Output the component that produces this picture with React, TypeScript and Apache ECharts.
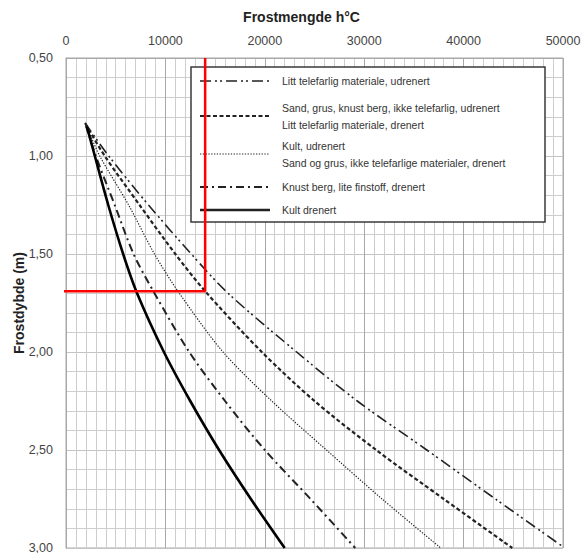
import React, { useEffect, useRef } from "react";
import * as echarts from "echarts";

// Frostmengde (h°C) read at each depth (m)
const dddDepth = [0.83, 1.0, 1.25, 1.5, 1.7, 2.0, 2.25, 2.5, 2.75, 2.99];
const dddFrost = [1900, 4300, 8300, 12600, 16300, 23200, 29300, 36300, 43200, 49900];

const dashedDepth = [0.835, 1.0, 1.25, 1.5, 1.69, 2.0, 2.25, 2.5, 2.75, 3.0];
const dashedFrost = [1950, 3900, 7400, 11000, 14000, 19700, 25000, 31200, 38000, 44900];

const dottedDepth = [0.84, 1.0, 1.25, 1.5, 1.7, 2.0, 2.25, 2.5, 2.75, 3.0];
const dottedFrost = [2000, 3400, 6300, 8900, 11400, 15800, 20700, 26200, 31800, 37700];

const dashDotDepth = [0.845, 1.0, 1.25, 1.5, 1.7, 2.0, 2.25, 2.5, 2.75, 3.0];
const dashDotFrost = [2000, 3000, 4900, 6800, 8900, 12400, 16000, 20000, 24600, 29100];

const solidDepth = [0.85, 1.0, 1.25, 1.5, 1.7, 2.0, 2.25, 2.5, 2.75, 3.0];
const solidFrost = [2100, 2900, 4250, 5750, 7150, 9850, 12500, 15400, 18600, 22000];

const redFrost = [14000, 14000, -300];
const redDepth = [0.5, 1.69, 1.69];

const legendLabels = [
  ["Litt telefarlig materiale, udrenert"],
  ["Sand, grus, knust berg, ikke telefarlig, udrenert", "Litt telefarlig materiale, drenert"],
  ["Kult, udrenert", "Sand og grus, ikke telefarlige materialer, drenert"],
  ["Knust berg, lite finstoff, drenert"],
  ["Kult drenert"],
];

const xTitle = "Frostmengde h\u00B0C";
const yTitle = "Frostdybde (m)";

const FONT = '"Liberation Sans", Arial, sans-serif';

const pairs = (xs: number[], ys: number[]) => xs.map((x, i) => [x, ys[i]]);

const styles = [
  { width: 1.6, type: [11, 4, 2, 3, 2, 4] as number[] },
  { width: 2.2, type: [4, 2.5] as number[] },
  { width: 1.2, type: [1.3, 1.5] as number[] },
  { width: 2, type: [8, 4, 2, 4] as number[] },
  { width: 2.6, type: "solid" as any },
];

export default function App() {
  const ref = useRef<HTMLDivElement>(null);
  useEffect(() => {
    if (!ref.current) return;
    const chart = echarts.init(ref.current, undefined, { renderer: "svg" });
    const seriesData = [
      pairs(dddFrost, dddDepth),
      pairs(dashedFrost, dashedDepth),
      pairs(dottedFrost, dottedDepth),
      pairs(dashDotFrost, dashDotDepth),
      pairs(solidFrost, solidDepth),
    ];

    const legendLineY = [81, 116, 154, 187, 210];
    const legendTextY = [[81], [108, 124.5], [146, 163], [187], [210]];
    const graphics: any[] = [
      {
        type: "rect",
        z: 1,
        shape: { x: 191, y: 67, width: 354, height: 155 },
        style: { fill: "#fff", stroke: "#3a3a3a", lineWidth: 1.5 },
      },
    ];
    legendLabels.forEach((lines, i) => {
      graphics.push({
        type: "line",
        z: 1,
        shape: { x1: 200, y1: legendLineY[i], x2: 270, y2: legendLineY[i] },
        style: {
          stroke: "#222",
          lineWidth: styles[i].width,
          lineDash: Array.isArray(styles[i].type) ? styles[i].type : null,
        },
      });
      lines.forEach((t, j) => {
        graphics.push({
          type: "text",
          z: 1,
          style: {
            text: t,
            x: 282,
            y: legendTextY[i][j],
            fill: "#333",
            font: `10.5px ${FONT}`,
            verticalAlign: "middle",
          },
        });
      });
    });

    chart.setOption({
      animation: false,
      backgroundColor: "#fff",
      grid: {
        left: 66,
        right: 20,
        top: 58,
        bottom: 5,
        show: true,
        containLabel: false,
        outerBoundsMode: "none",
        borderColor: "#a8a8a8",
        borderWidth: 1,
      },
      xAxis: {
        type: "value",
        position: "top",
        min: 0,
        max: 50000,
        interval: 10000,
        name: xTitle,
        nameLocation: "middle",
        nameGap: 34,
        nameTextStyle: {
          fontFamily: FONT,
          fontWeight: "bold",
          fontSize: 14,
          color: "#222",
          padding: [0, 26, 0, 0],
        },
        axisLine: { show: true, lineStyle: { color: "#a8a8a8" } },
        axisTick: { show: false },
        axisLabel: {
          fontFamily: FONT,
          fontSize: 12.5,
          color: "#444",
          margin: 11,
          formatter: (v: number) => String(v),
        },
        splitLine: { show: true, lineStyle: { color: "#a8a8a8", width: 1 } },
        minorTick: { show: false, splitNumber: 10 },
        minorSplitLine: { show: true, lineStyle: { color: "#cdcdcd", width: 1 } },
      },
      yAxis: {
        type: "value",
        inverse: true,
        min: 0.5,
        max: 3.0,
        interval: 0.5,
        name: yTitle,
        nameLocation: "middle",
        nameGap: 40,
        nameMoveOverlap: false,
        nameRotate: 90,
        nameTextStyle: {
          fontFamily: FONT,
          fontWeight: "bold",
          fontSize: 14,
          color: "#222",
        },
        axisLine: { show: true, lineStyle: { color: "#a8a8a8" } },
        axisTick: { show: false },
        axisLabel: {
          fontFamily: FONT,
          fontSize: 12.5,
          color: "#444",
          margin: 13,
          formatter: (v: number) => v.toFixed(2).replace(".", ","),
        },
        splitLine: { show: true, lineStyle: { color: "#c4c4c4", width: 1 } },
        minorTick: { show: false, splitNumber: 5 },
        minorSplitLine: { show: true, lineStyle: { color: "#cdcdcd", width: 1 } },
      },
      graphic: graphics,
      series: [
        ...seriesData.map((d, i) => ({
          type: "line",
          name: legendLabels[i].join(" / "),
          data: d,
          symbol: "none",
          smooth: 0.3,
          z: 2,
          lineStyle: { color: i === 4 ? "#000" : "#222", width: styles[i].width, type: styles[i].type },
        })),
        {
          type: "line",
          name: "red",
          data: pairs(redFrost, redDepth),
          symbol: "none",
          z: 5,
          clip: false,
          lineStyle: { color: "#ff0000", width: 2.5 },
        },
      ],
    });
    return () => chart.dispose();
  }, []);
  return (
    <div
      ref={ref}
      style={{ position: "fixed", left: 0, top: 0, width: 583, height: 553, background: "#fff" }}
    />
  );
}
